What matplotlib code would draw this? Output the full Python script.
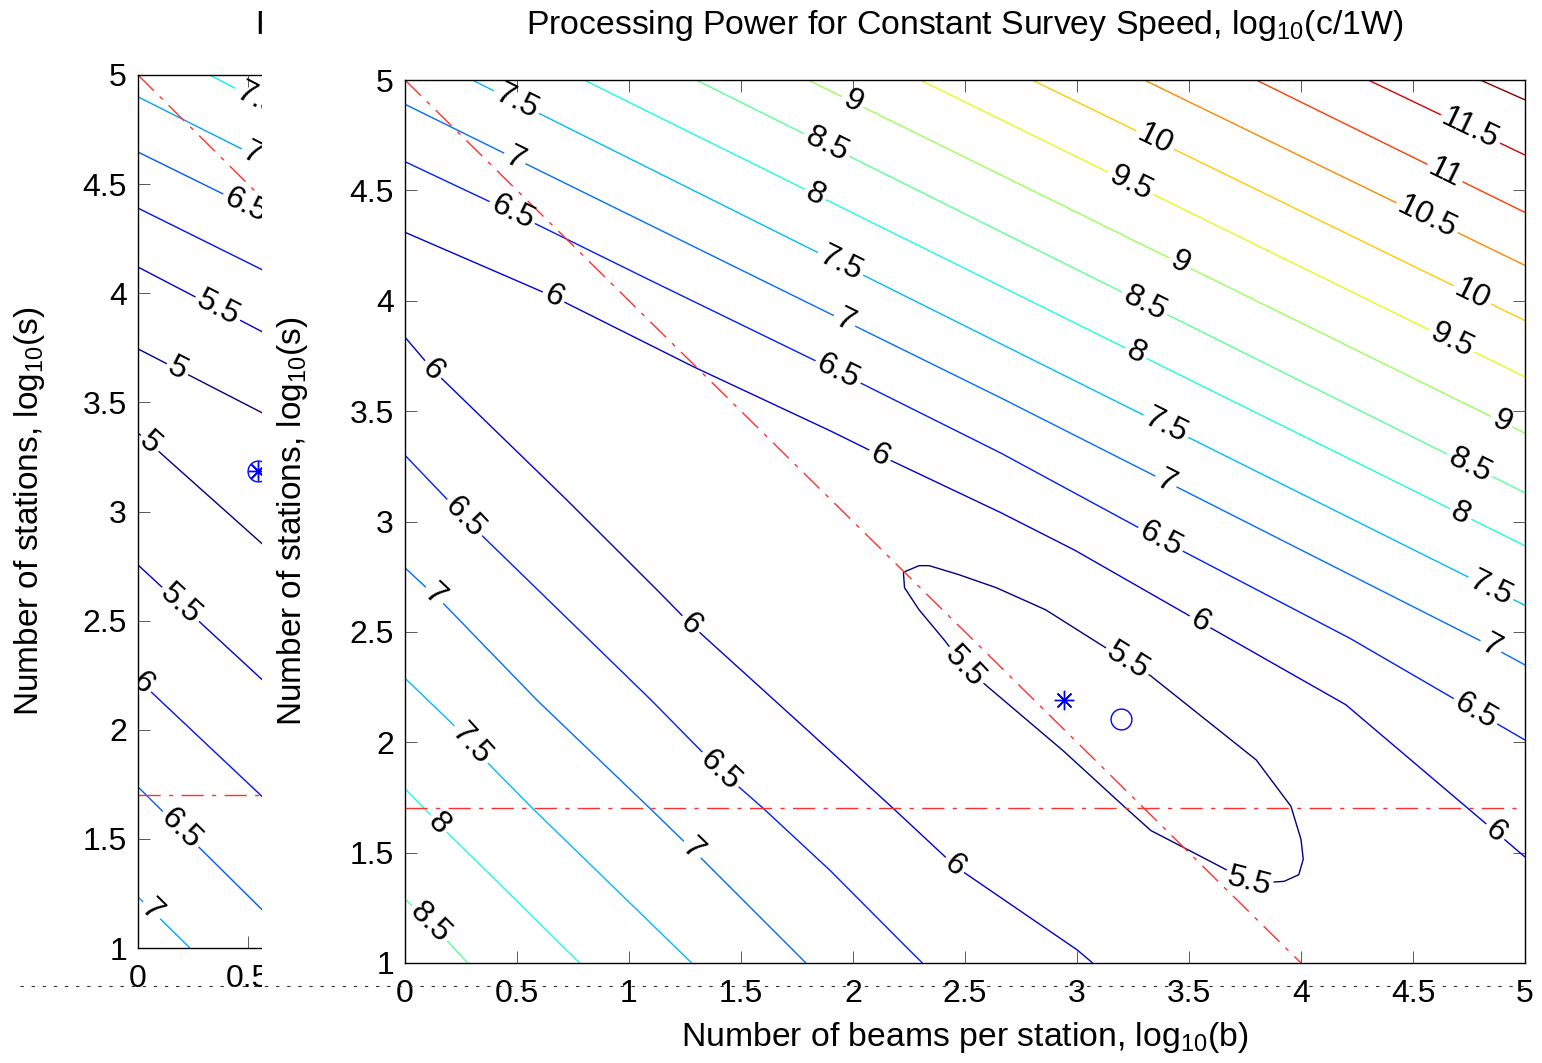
import matplotlib
matplotlib.use('Agg')
import matplotlib.pyplot as plt
from matplotlib.contour import ContourSet
from matplotlib.colors import Normalize
from matplotlib.patches import Rectangle
from matplotlib.lines import Line2D
from matplotlib.ticker import FormatStrFormatter
import numpy as np

plt.rcParams['font.family'] = ['Liberation Sans', 'DejaVu Sans']
plt.rcParams['mathtext.fontset'] = 'custom'
plt.rcParams['mathtext.rm'] = 'Liberation Sans'
plt.rcParams['mathtext.it'] = 'Liberation Sans:italic'

title = r'Processing Power for Constant Survey Speed, log$_{\mathrm{10}}$(c/1W)'
xlab = r'Number of beams per station, log$_{\mathrm{10}}$(b)'
ylab = r'Number of stations, log$_{\mathrm{10}}$(s)'

# ---------------- main panel, contour traces (log10 b, log10 s) ----------------
main_levels = [5.5, 6.0, 6.5, 7.0, 7.5, 8.0, 8.5, 9.0, 9.5, 10.0, 10.5, 11.0, 11.5, 12.0]

# 5.5: closed loop round the minimum
loop55_b = [2.225, 2.295, 2.34, 2.47, 2.64, 2.86, 3.125, 3.33, 3.565, 3.80, 3.955, 4.00, 4.01, 3.99,
            3.925, 3.78, 3.69, 3.52, 3.33, 3.22, 2.94, 2.58, 2.50, 2.41, 2.295, 2.23, 2.225]
loop55_s = [2.77, 2.80, 2.80, 2.76, 2.70, 2.60, 2.43, 2.30, 2.11, 1.92, 1.71, 1.56, 1.47, 1.40,
            1.37, 1.36, 1.41, 1.50, 1.60, 1.70, 1.96, 2.27, 2.34, 2.46, 2.60, 2.70, 2.77]

# lower-left branches
low6_b = [0.0, 0.125, 0.72, 1.125, 1.28, 1.78, 2.18, 2.46, 3.0, 3.07]
low6_s = [3.835, 3.686, 3.10, 2.69, 2.53, 2.07, 1.70, 1.435, 1.06, 1.0]
low65_b = [0.0, 0.33, 1.10, 1.415, 1.60, 1.897, 2.25, 2.31]
low65_s = [3.30, 2.95, 2.19, 1.865, 1.70, 1.42, 1.06, 1.0]
low7_b = [0.0, 0.17, 0.59, 1.094, 1.317, 1.79]
low7_s = [2.79, 2.63, 2.19, 1.70, 1.48, 1.0]
low75_b = [0.0, 0.21, 0.366, 0.57, 1.28]
low75_s = [2.29, 2.085, 1.91, 1.70, 1.0]
low8_b = [0.0, 0.19, 0.78]
low8_s = [1.79, 1.59, 1.0]
low85_b = [0.0, 0.18, 0.28]
low85_s = [1.29, 1.11, 1.0]

# upper-right branches
up6_b = [0.0, 0.66, 1.29, 1.9, 2.12, 2.66, 2.99, 3.55, 4.2, 4.87, 5.0]
up6_s = [4.31, 4.02, 3.70, 3.41, 3.30, 3.04, 2.87, 2.545, 2.17, 1.593, 1.48]
up65_b = [0.0, 0.48, 1.1, 1.93, 2.66, 3.37, 4.22, 4.78, 5.0]
up65_s = [4.63, 4.40, 4.09, 3.68, 3.31, 2.92, 2.47, 2.14, 2.01]
up7_b = [0.0, 2.66, 4.82, 5.0]
up7_s = [4.89, 3.56, 2.45, 2.35]
# straight ones from 7.5 up: where they leave the top edge / meet the right edge
straight_levels = [7.5, 8.0, 8.5, 9.0, 9.5, 10.0, 10.5, 11.0, 11.5, 12.0]
straight_top_b = [0.30, 0.80, 1.30, 1.80, 2.30, 2.80, 3.30, 3.80, 4.30, 4.80]
straight_right_s = [2.62, 2.89, 3.13, 3.40, 3.655, 3.91, 4.16, 4.40, 4.66, 4.91]

# red guides and the two design points
guide_b = [0.0, 4.0]
guide_s = [5.0, 1.0]
min_stations = 1.7
star_b, star_s = [2.94], [2.19]
ring_b, ring_s = [3.195], [2.107]

# ---------------- left (cut-off) panel ----------------
left_levels = [5.0, 5.5, 6.0, 6.5, 7.0, 7.5]
left_up_b = [[0.0, 0.8], [0.0, 0.8], [0.0, 0.8], [0.0, 0.8], [0.0, 0.8], [0.327, 0.8]]
left_up_s = [[3.745, 3.33], [4.12, 3.70], [4.39, 3.99], [4.647, 4.25], [4.90, 4.495], [5.0, 4.75]]
left_low_b = [[0.0, 0.8], [0.0, 0.8], [0.0, 0.8], [0.0, 0.74], [0.0, 0.236]]
left_low_s = [[3.36, 2.64], [2.755, 2.01], [2.23, 1.47], [1.738, 1.0], [1.234, 1.0]]
left_mark_b, left_mark_s = [0.545], [3.186]

# label spots (where the numbers sit along the lines)
main_label_at = [(0.491, 4.887), (1.996, 4.896), (3.348, 4.728), (4.754, 4.773), (1.875, 4.692),
                 (0.491, 4.647), (3.228, 4.511), (4.621, 4.533), (1.830, 4.479), (0.478, 4.398),
                 (4.554, 4.357), (3.460, 4.171), (1.942, 4.162), (0.661, 4.012), (4.754, 4.003),
                 (3.304, 3.990), (1.964, 3.913), (4.665, 3.800), (3.259, 3.754), (1.933, 3.677),
                 (0.112, 3.677), (4.888, 3.437), (3.393, 3.424), (2.121, 3.301), (4.754, 3.256),
                 (3.393, 3.174), (4.710, 3.029), (0.246, 2.998), (3.371, 2.916), (4.844, 2.690),
                 (0.112, 2.644), (1.272, 2.531), (3.549, 2.545), (4.844, 2.427), (3.214, 2.350),
                 (2.478, 2.327), (4.777, 2.137), (0.268, 1.965), (1.397, 1.865), (0.134, 1.616),
                 (4.866, 1.593), (1.272, 1.503), (2.455, 1.444), (3.772, 1.376), (0.089, 1.159)]
left_label_at = [(0.53, 4.86), (0.518, 4.633), (0.486, 4.395), (0.364, 3.932), (0.182, 3.657),
                 (0.055, 3.314), (0.191, 2.572), (0.023, 2.214), (0.191, 1.541), (0.055, 1.165)]

red = '#ff3030'
dashdot = (16, 6, 3, 6)


def seg(b, s):
    return np.column_stack([b, s])


def style_axes(ax):
    ax.set_xlim(0, 5)
    ax.set_ylim(1, 5)
    ax.set_xticks(np.arange(0, 5.01, 0.5))
    ax.set_yticks(np.arange(1, 5.01, 0.5))
    ax.xaxis.set_major_formatter(FormatStrFormatter('%g'))
    ax.yaxis.set_major_formatter(FormatStrFormatter('%g'))
    ax.tick_params(direction='in', length=8.5, width=0.7, color='0.35', top=True, right=True,
                   labelsize=23, pad=8)
    ax.tick_params(axis='x', pad=11.5)
    for sp in ax.spines.values():
        sp.set_linewidth(1.0)


fig = plt.figure(figsize=(15.42, 10.63), dpi=100)

# left panel (mostly hidden behind the main one)
axl = fig.add_axes([138 / 1542, 1 - 948 / 1063, 1100 / 1542, 873 / 1063], zorder=0)
style_axes(axl)
left_segs = []
for i, lv in enumerate(left_levels):
    segs = [seg(left_up_b[i], left_up_s[i])]
    if i < len(left_low_b):
        segs.append(seg(left_low_b[i], left_low_s[i]))
    left_segs.append(segs)
csl = ContourSet(axl, left_levels, left_segs, cmap='jet', norm=Normalize(5.0, 12.0), linewidths=1.0)
csl.clabel(fmt='%g', colors='k', fontsize=23, inline=True, inline_spacing=3, manual=left_label_at)
axl.plot(guide_b, guide_s, color=red, lw=1.0, dashes=dashdot)
axl.axhline(min_stations, color=red, lw=1.0, dashes=dashdot)
axl.plot(left_mark_b, left_mark_s, marker=(8, 2, 0), ms=14, color='b', mew=1.0, ls='none')
axl.plot(left_mark_b, left_mark_s, 'o', ms=15, mfc='none', mec='b', mew=1.0)
axl.set_ylabel(ylab, fontsize=24)
axl.yaxis.set_label_coords(-0.0825, 0.5)
# only the first letter of this panel's title peeks out
fig.text(255.5 / 1542, 1 - 33.6 / 1063, 'Processing', fontsize=24, va='baseline', ha='left', zorder=0.5)

# white sheet of the second figure pasted over it
fig.patches.append(Rectangle((262 / 1542, 0), 1, 1, transform=fig.transFigure,
                             facecolor='white', edgecolor='none', zorder=1))

# main panel
ax = fig.add_axes([405 / 1542, 1 - 963 / 1063, 1120 / 1542, 883 / 1063], zorder=2)
style_axes(ax)
main_segs = [[seg(loop55_b, loop55_s)],
             [seg(low6_b, low6_s), seg(up6_b, up6_s)],
             [seg(low65_b, low65_s), seg(up65_b, up65_s)],
             [seg(low7_b, low7_s), seg(up7_b, up7_s)]]
lows = {7.5: (low75_b, low75_s), 8.0: (low8_b, low8_s), 8.5: (low85_b, low85_s)}
for lv, tb, rs in zip(straight_levels, straight_top_b, straight_right_s):
    segs = [seg([tb, 5.0], [5.0, rs])]
    if lv in lows:
        segs.insert(0, seg(*lows[lv]))
    main_segs.append(segs)
cs = ContourSet(ax, main_levels, main_segs, cmap='jet', norm=Normalize(5.5, 12.0), linewidths=1.0)
cs.clabel(fmt='%g', colors='k', fontsize=23, inline=True, inline_spacing=3, manual=main_label_at)

ax.plot(guide_b, guide_s, color=red, lw=1.0, dashes=dashdot)
ax.axhline(min_stations, color=red, lw=1.0, dashes=dashdot)
ax.plot(star_b, star_s, marker=(8, 2, 0), ms=14, color='b', mew=1.0, ls='none')
ax.plot(ring_b, ring_s, 'o', ms=15, mfc='none', mec='b', mew=1.0)

ax.set_title(title, fontsize=24.3, pad=33)
ax.set_xlabel(xlab, fontsize=24.3)
ax.set_ylabel(ylab, fontsize=24)
ax.yaxis.set_label_coords(-0.0848, 0.5)
ax.xaxis.set_label_coords(0.5, -0.064)

# stray dotted rule along the bottom of the image
fig.lines.append(Line2D([20 / 1542, 1525 / 1542], [1 - 986 / 1063] * 2, transform=fig.transFigure,
                        color='0.2', lw=0.8, dashes=(3, 7), zorder=3))

fig.savefig('out.png', dpi=100)
